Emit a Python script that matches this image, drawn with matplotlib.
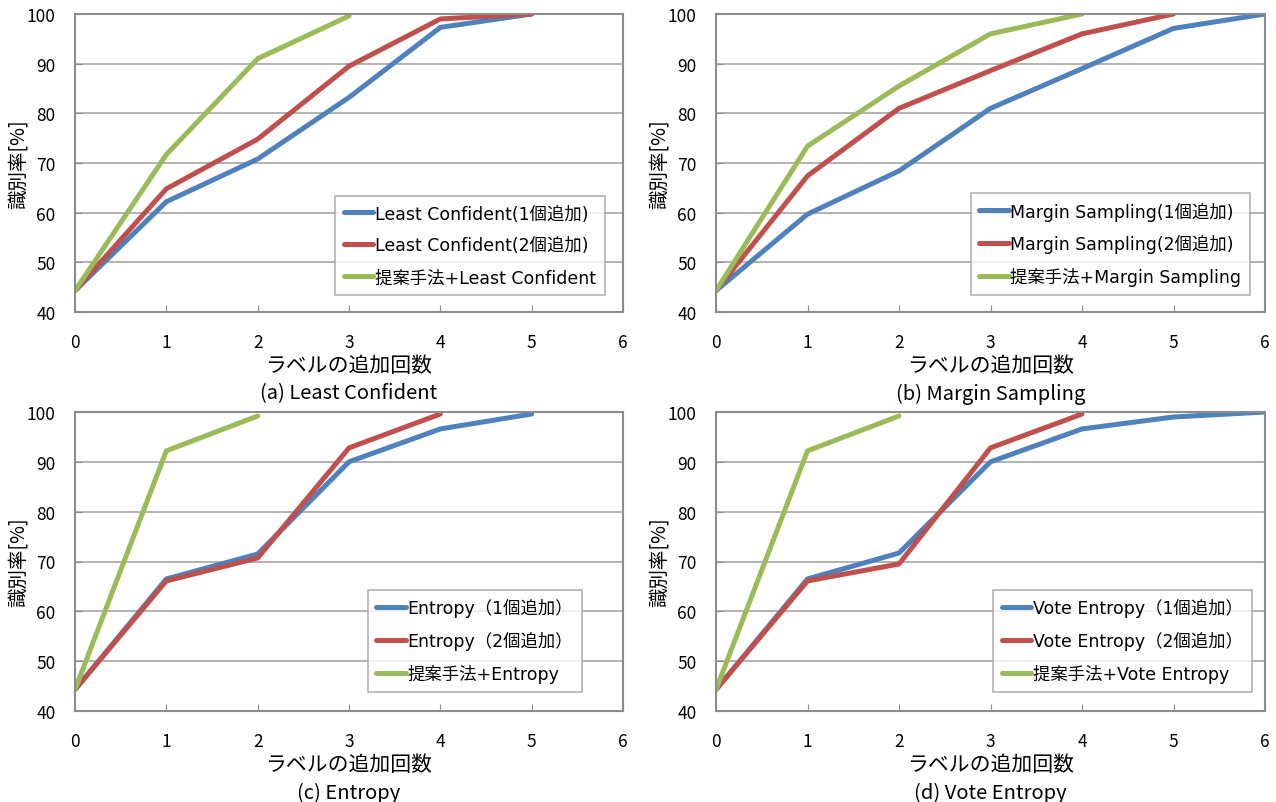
import matplotlib.pyplot as plt

plt.rcParams['font.family'] = ['Noto Sans CJK JP', 'DejaVu Sans']

# Data: recognition rate [%] vs. number of label additions
x_ticks = [0, 1, 2, 3, 4, 5, 6]

lc_one = [44.3, 62.2, 70.8, 83.2, 97.3, 100.0]
lc_two = [44.3, 64.8, 74.8, 89.5, 99.0, 100.0]
lc_prop = [44.3, 71.7, 91.0, 99.6]

ms_one = [44.3, 59.7, 68.4, 81.0, 89.0, 97.1, 100.0]
ms_two = [44.3, 67.4, 81.0, 88.6, 96.0, 100.0]
ms_prop = [44.3, 73.4, 85.5, 96.0, 100.0]

en_one = [44.3, 66.5, 71.5, 90.0, 96.6, 99.6]
en_two = [44.3, 66.1, 70.7, 92.8, 99.6]
en_prop = [44.3, 92.2, 99.2]

ve_one = [44.3, 66.5, 71.7, 90.0, 96.6, 99.0, 100.0]
ve_two = [44.3, 66.1, 69.5, 92.8, 99.6]
ve_prop = [44.3, 92.2, 99.2]

labels_a = ["Least Confident(1個追加)", "Least Confident(2個追加)", "提案手法+Least Confident"]
labels_b = ["Margin Sampling(1個追加)", "Margin Sampling(2個追加)", "提案手法+Margin Sampling"]
labels_c = ["Entropy（1個追加）", "Entropy（2個追加）", "提案手法+Entropy"]
labels_d = ["Vote Entropy（1個追加）", "Vote Entropy（2個追加）", "提案手法+Vote Entropy"]

captions = ["(a) Least Confident", "(b) Margin Sampling", "(c) Entropy", "(d) Vote Entropy"]

colors = ["#4F81BD", "#C0504D", "#9BBB59"]
grid_col = "#A6A6A6"

fig = plt.figure(figsize=(12.76, 8.03), dpi=100)

W, H = 1276, 803
boxes = [(75, 15, 623, 313), (716, 15, 1265, 313),
         (75, 413, 623, 712), (716, 413, 1265, 712)]
panels = [
    ((lc_one, lc_two, lc_prop), labels_a, 0.967, 0.057),
    ((ms_one, ms_two, ms_prop), labels_b, 0.973, 0.057),
    ((en_one, en_two, en_prop), labels_c, 0.925, 0.064),
    ((ve_one, ve_two, ve_prop), labels_d, 0.976, 0.064),
]

for (l, t, r, b), (series, labels, lx, ly), cap in zip(boxes, panels, captions):
    ax = fig.add_axes([l / W, 1 - b / H, (r - l) / W, (b - t) / H])
    for vals, lab, c in zip(series, labels, colors):
        ax.plot(range(len(vals)), vals, color=c, lw=3.6, label=lab,
                solid_capstyle='round', solid_joinstyle='round')
    ax.set_xlim(0, 6)
    ax.set_ylim(40, 100)
    ax.set_xticks(x_ticks)
    ax.set_yticks(range(40, 101, 10))
    ax.grid(True, axis='y', color=grid_col, lw=1.2)
    ax.set_axisbelow(True)
    for s in ax.spines.values():
        s.set_color("#8C8C8C")
        s.set_linewidth(1.5)
    ax.tick_params(axis='x', direction='in', length=5, color="#8C8C8C", pad=15, labelsize=12.5)
    ax.tick_params(axis='y', direction='in', length=5, color="#8C8C8C", pad=14, labelsize=12.5)
    ax.set_ylabel("識別率[%]", fontsize=14)
    ax.yaxis.set_label_coords(-0.085, 0.5)
    ax.set_xlabel("ラベルの追加回数", fontsize=15, va='top')
    ax.xaxis.set_label_coords(0.5, -0.14)
    ax.text(0.5, -0.272, cap, transform=ax.transAxes, ha='center', va='center', fontsize=14.5)
    leg = ax.legend(loc='lower right', bbox_to_anchor=(lx, ly),
                    prop={'family': ['DejaVu Sans', 'Noto Sans CJK JP'], 'size': 12.5},
                    frameon=True, fancybox=False, handlelength=1.7, handletextpad=0.1,
                    labelspacing=0.8, borderpad=0.5, borderaxespad=0)
    leg.get_frame().set_edgecolor("#A0A0A0")
    leg.get_frame().set_linewidth(1.2)

fig.savefig("out.png", dpi=100)
